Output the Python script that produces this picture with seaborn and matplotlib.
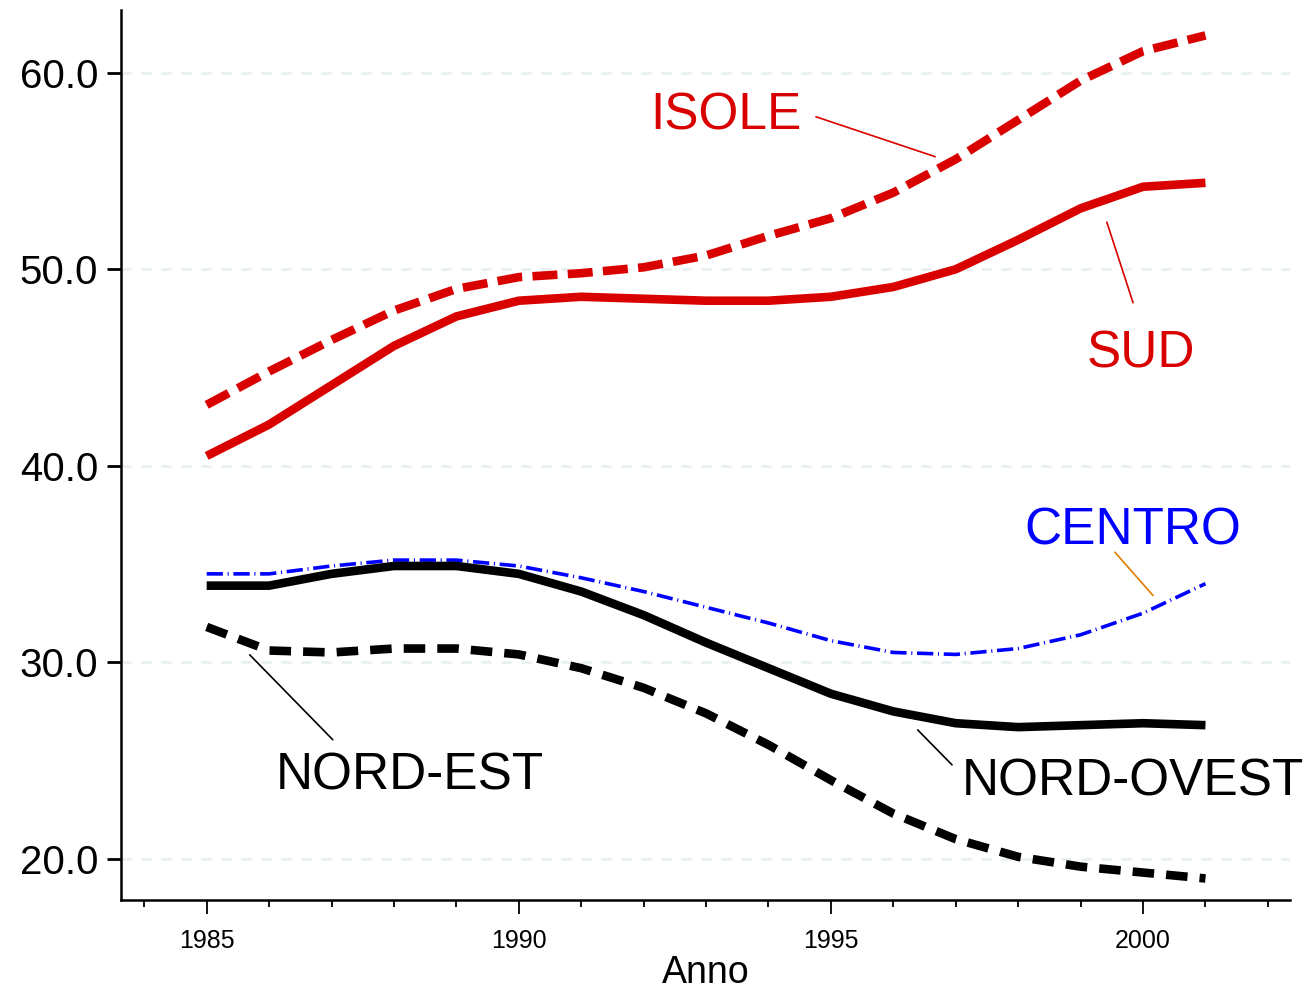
import pandas as pd
import matplotlib
matplotlib.use('Agg')
import matplotlib.pyplot as plt
import seaborn as sns

anni = list(range(1985, 2002))
isole = [43.1, 44.8, 46.4, 47.9, 49.0, 49.6, 49.8, 50.1, 50.7, 51.7, 52.6, 53.9, 55.6, 57.6, 59.6, 61.1, 61.9]
sud = [40.5, 42.1, 44.1, 46.1, 47.6, 48.4, 48.6, 48.5, 48.4, 48.4, 48.6, 49.1, 50.0, 51.5, 53.1, 54.2, 54.4]
centro = [34.5, 34.5, 34.9, 35.2, 35.2, 34.9, 34.3, 33.6, 32.8, 32.0, 31.1, 30.5, 30.4, 30.7, 31.4, 32.5, 34.0]
nord_ovest = [33.9, 33.9, 34.5, 34.9, 34.9, 34.5, 33.6, 32.4, 31.0, 29.7, 28.4, 27.5, 26.9, 26.7, 26.8, 26.9, 26.8]
nord_est = [31.8, 30.6, 30.5, 30.7, 30.7, 30.4, 29.7, 28.7, 27.4, 25.8, 24.0, 22.3, 21.0, 20.1, 19.6, 19.3, 19.0]

regioni = ['ISOLE', 'SUD', 'CENTRO', 'NORD-OVEST', 'NORD-EST']
serie = [isole, sud, centro, nord_ovest, nord_est]

df = pd.DataFrame({
    'Anno': anni * len(regioni),
    'valore': sum(serie, []),
    'regione': [r for r in regioni for _ in anni],
})

sns.set_style('white')
plt.rcParams['font.family'] = ['Liberation Sans', 'DejaVu Sans']
plt.rcParams['text.color'] = 'black'
plt.rcParams['axes.labelcolor'] = 'black'
plt.rcParams['xtick.color'] = 'black'
plt.rcParams['ytick.color'] = 'black'

colori = {'ISOLE': '#d90000', 'SUD': '#d90000', 'CENTRO': '#0000ff',
          'NORD-OVEST': '#000000', 'NORD-EST': '#000000'}
tratti = {'ISOLE': (2.9, 1.2), 'SUD': '', 'CENTRO': (4.5, 1.3, 0.3, 1.3),
          'NORD-OVEST': '', 'NORD-EST': (2.5, 1.4)}
spessori = {'ISOLE': 6.2, 'SUD': 6.2, 'CENTRO': 2.6, 'NORD-OVEST': 6.2, 'NORD-EST': 6.2}

fig = plt.figure(figsize=(13.1, 9.88), dpi=100)
ax = fig.add_axes([0.092, 0.089, 0.893, 0.901])

for y in [20, 30, 40, 50, 60]:
    ax.axhline(y, color='#e6eef0', lw=1.8, ls=(0, (4, 4)), zorder=0)

for r in regioni:
    sub = df[df['regione'] == r]
    sns.lineplot(data=sub, x='Anno', y='valore', ax=ax, color=colori[r],
                 lw=spessori[r], legend=False, zorder=3)
    linea = ax.lines[-1]
    if tratti[r]:
        linea.set_dashes(tratti[r])
        linea.set_dash_capstyle('butt')
    else:
        linea.set_linestyle('-')
        linea.set_solid_capstyle('butt')

ax.set_xlim(1983.62, 2002.36)
ax.set_ylim(17.9, 63.2)
ax.set_yticks([20, 30, 40, 50, 60])
ax.set_yticklabels(['20.0', '30.0', '40.0', '50.0', '60.0'], fontsize=29)
ax.set_xticks([1985, 1990, 1995, 2000])
ax.set_xticks(range(1984, 2003), minor=True)
ax.set_xticklabels(['1985', '1990', '1995', '2000'], fontsize=18)
ax.tick_params(axis='y', which='major', length=10, width=2, direction='out', left=True, pad=6)
ax.tick_params(axis='x', which='major', length=10, width=1.3, direction='out', bottom=True, pad=11)
ax.tick_params(axis='x', which='minor', length=5, width=1.3, direction='out', bottom=True)
ax.set_xlabel('Anno', fontsize=27, labelpad=1)
ax.set_ylabel('')
for s in ['top', 'right']:
    ax.spines[s].set_visible(False)
for s in ['left', 'bottom']:
    ax.spines[s].set_linewidth(1.8)
    ax.spines[s].set_color('black')

# etichette con linee di collegamento
etichette = [
    ('ISOLE', 1993.32, 57.8, 1994.76, 57.76, 1996.67, 55.73, '#d90000', '#d90000'),
    ('SUD', 1999.97, 45.7, 1999.84, 48.3, 1999.42, 52.4, '#d90000', '#d90000'),
    ('CENTRO', 1999.84, 36.7, 1999.55, 35.6, 2000.16, 33.4, '#0000ff', '#e07b00'),
    ('NORD-EST', 1988.25, 24.2, 1987.02, 26.06, 1985.69, 30.38, '#000000', '#000000'),
    ('NORD-OVEST', 1999.84, 23.9, 1996.94, 24.78, 1996.39, 26.56, '#000000', '#000000'),
]
for testo, tx, ty, x0, y0, x1, y1, ct, cl in etichette:
    ax.text(tx, ty, testo, fontsize=37, color=ct, ha='center', va='center', zorder=5)
    ax.plot([x0, x1], [y0, y1], color=cl, lw=1.2, zorder=4)

fig.savefig('out.png', dpi=100)
